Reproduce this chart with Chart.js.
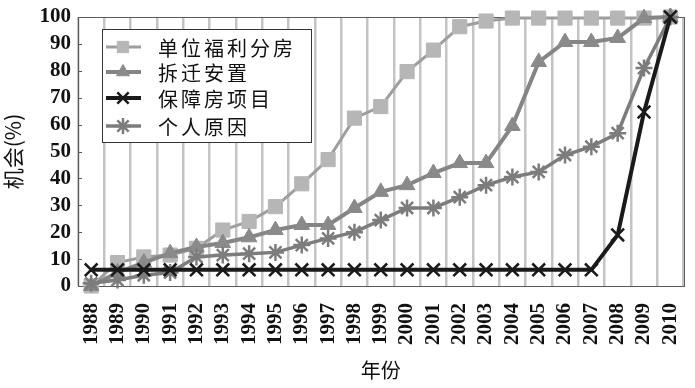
<!DOCTYPE html>
<html>
<head>
<meta charset="utf-8">
<script src="https://cdn.jsdelivr.net/npm/chart.js@4.4.0/dist/chart.umd.min.js"></script>
<style>
html,body{margin:0;padding:0;background:#fff;}
#wrap{width:695px;height:388px;position:relative;}
</style>
</head>
<body>
<div id="wrap"><canvas id="c" width="695" height="388"></canvas></div>
<script>
// ---- data ----
const years = ['1988','1989','1990','1991','1992','1993','1994','1995','1996','1997','1998','1999','2000','2001','2002','2003','2004','2005','2006','2007','2008','2009','2010'];
const seriesNames = ['单位福利分房','拆迁安置','保障房项目','个人原因'];
const welfareHousing = [0, 8.7, 10.8, 11.5, 14, 20.8, 24, 29.5, 38, 47, 62.4, 66.7, 79.7, 87.7, 96.4, 98.5, 99.6, 99.6, 99.6, 99.6, 99.6, 99.6, 100];
const relocation = [0, 5, 8.7, 12.2, 14.5, 16, 18.1, 20.8, 22.7, 22.7, 29, 35, 37.5, 42, 45.7, 45.7, 59.5, 83.3, 90.7, 90.7, 92.2, 99.6, 100];
const affordable = [6, 6, 6, 6, 6, 6, 6, 6, 6, 6, 6, 6, 6, 6, 6, 6, 6, 6, 6, 6, 19, 64.7, 100];
const personal = [1, 2.2, 4, 5, 10.8, 11.5, 12, 12.5, 15.2, 17.7, 20, 24.5, 29, 29, 33, 37.5, 40.5, 42.4, 48.7, 51.8, 56.8, 81, 100];
const yTicks = [0,10,20,30,40,50,60,70,80,90,100];
const yTitle = '机会(%)';
const xTitle = '年份';

const styles = [
  {line:'#9e9e9e', fill:'#b6b6b6', pointStyle:'rect', radius:10, lw:3, order:4, lr:8},
  {line:'#858585', fill:'#8a8a8a', pointStyle:'triangle', radius:9, lw:4, order:3, lr:7.5},
  {line:'#1a1a1a', fill:'#1a1a1a', pointStyle:'crossRot', radius:9, lw:4, order:1, lr:8},
  {line:'#7c7c7c', fill:'#7c7c7c', pointStyle:'star', radius:8.5, lw:3.5, order:2, lr:8}
];
const seriesData = [welfareHousing, relocation, affordable, personal];

const datasets = seriesData.map((d,i)=>({
  label: seriesNames[i],
  data: d,
  borderColor: styles[i].line,
  backgroundColor: styles[i].fill,
  pointBackgroundColor: styles[i].fill,
  pointBorderColor: styles[i].fill,
  pointStyle: styles[i].pointStyle,
  pointRadius: styles[i].radius,
  pointHoverRadius: styles[i].radius,
  pointBorderWidth: (styles[i].pointStyle==='crossRot'||styles[i].pointStyle==='star') ? 2.5 : 1,
  borderWidth: styles[i].lw,
  tension: 0,
  order: styles[i].order,
  clip: false
}));

const cjk = '"Noto Sans CJK SC", "Noto Sans", sans-serif';

const framePlugin = {
  id:'frame',
  beforeDatasetsDraw(chart){
    const {ctx, chartArea:a, scales} = chart;
    ctx.save();
    ctx.strokeStyle = '#5a5a5a';
    ctx.lineWidth = 1;
    yTicks.forEach(v=>{
      const y = Math.round(scales.y.getPixelForValue(v))+0.5;
      ctx.beginPath(); ctx.moveTo(a.left, y); ctx.lineTo(a.left+4, y); ctx.stroke();
    });
    ctx.strokeRect(Math.round(a.left)+0.5, Math.round(a.top)+0.5, Math.round(a.right-a.left), Math.round(a.bottom-a.top));
    ctx.restore();
  },
  afterDraw(chart){
    const ctx = chart.ctx;
    ctx.save();
    const bx=102, by=29, bw=209, bh=113;
    ctx.fillStyle='#fff';
    ctx.fillRect(bx,by,bw,bh);
    ctx.strokeStyle='#333';
    ctx.lineWidth=1;
    ctx.strokeRect(bx+0.5,by+0.5,bw,bh);
    const rows=[47,72,98,126];
    seriesNames.forEach((name,i)=>{
      const s=styles[i];
      const y=rows[i];
      ctx.strokeStyle=s.line;
      ctx.lineWidth=s.lw;
      ctx.beginPath(); ctx.moveTo(106,y); ctx.lineTo(141,y); ctx.stroke();
      ctx.fillStyle=s.fill; ctx.strokeStyle=s.fill;
      ctx.lineWidth=(s.pointStyle==='crossRot'||s.pointStyle==='star')?2.5:1;
      Chart.helpers.drawPoint(ctx,{pointStyle:s.pointStyle,radius:s.lr,rotation:0,borderWidth:ctx.lineWidth},123,y);
      ctx.fillStyle='#111';
      ctx.font='20px '+cjk;
      ctx.textBaseline='middle';
      ctx.textAlign='left';
      [...name].forEach((ch,k)=>{ ctx.fillText(ch, 158+k*23, y+1); });
    });
    ctx.restore();
  }
};

new Chart(document.getElementById('c'), {
  type:'line',
  data:{labels:years, datasets},
  options:{
    responsive:false,
    animation:false,
    devicePixelRatio:1,
    layout:{padding:{top:17,right:10,left:0,bottom:0}},
    plugins:{legend:{display:false}, tooltip:{enabled:false}},
    scales:{
      x:{
        type:'category',
        offset:true,
        grid:{display:true, offset:true, color:'#c4c4c4', lineWidth:2.5, drawTicks:false},
        border:{display:true, color:'#5a5a5a', width:1},
        ticks:{color:'#111', font:{family:'"Liberation Serif", serif', size:21, weight:'bold'}, minRotation:90, maxRotation:90, autoSkip:false, padding:17},
        title:{display:true, text:xTitle, color:'#111', font:{family:cjk, size:20}, padding:{top:0,bottom:6}},
        afterFit(s){ s.height = 102; s.paddingLeft = 0; s.paddingRight = 0; }
      },
      y:{
        min:0, max:100,
        afterBuildTicks(s){ s.ticks = yTicks.map(v=>({value:v})); },
        grid:{display:false, drawTicks:false},
        border:{display:true, color:'#5a5a5a', width:1},
        ticks:{color:'#111', font:{family:'"Liberation Serif", serif', size:21, weight:'bold'}, padding:7, autoSkip:false, stepSize:10},
        title:{display:true, text:yTitle, color:'#111', font:{family:cjk, size:21}, padding:{top:0,bottom:0}},
        afterFit(s){ s.width = 78; s.paddingTop = 0; s.paddingBottom = 0; }
      }
    }
  },
  plugins:[framePlugin]
});
</script>
</body>
</html>
